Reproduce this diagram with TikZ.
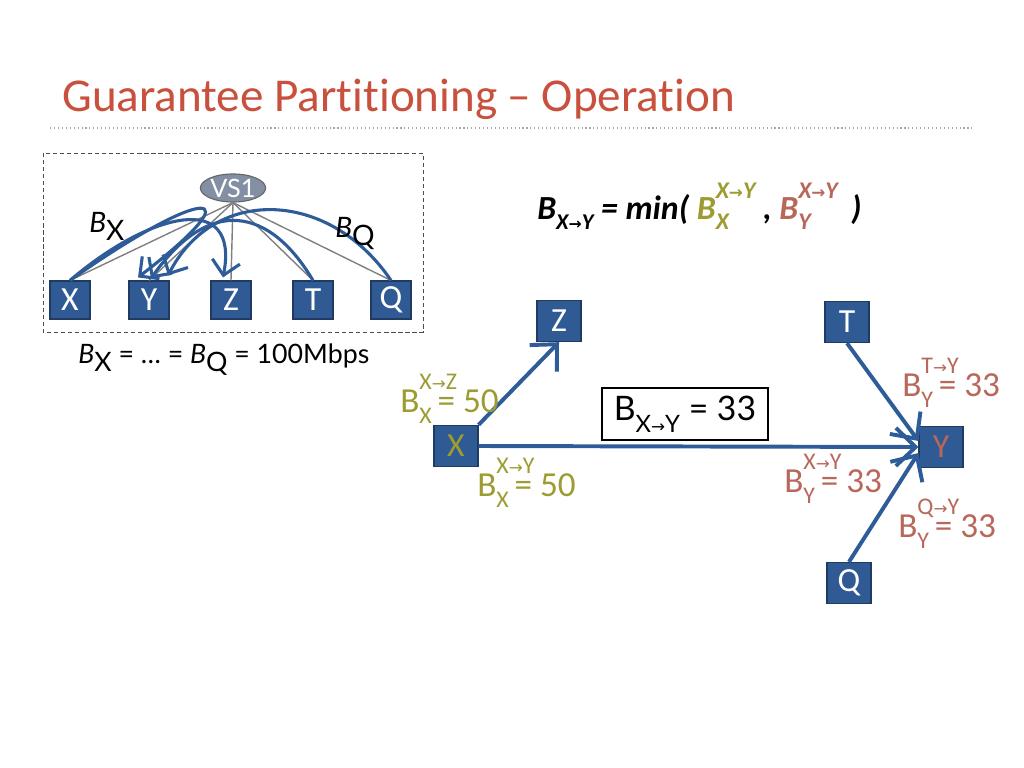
\documentclass[tikz,border=0pt]{standalone}
\usepackage{fontspec}
\setmainfont[Ligatures=NoCommon]{Carlito}
\newfontfamily\gill{Lato}
\newfontfamily\arrowfont{DejaVu Sans}
\usepackage{xcolor}
\usetikzlibrary{shapes.geometric, arrows.meta, positioning, calc}

\definecolor{titlered}{HTML}{C8503C}
\definecolor{linkblue}{HTML}{2E5C98}
\definecolor{boxblue}{HTML}{2F5A93}
\definecolor{boxedge}{HTML}{1F3B62}
\definecolor{olive}{HTML}{9C9C32}
\definecolor{rust}{HTML}{B8675B}
\definecolor{vsigray}{HTML}{8390A3}

\newcommand{\ra}{\scalebox{0.7}{\arrowfont →}}
\newcommand{\subsz}{\fontsize{17}{17}\selectfont}
% label: B with sub and sup, sup overlapping the equals sign
\newcommand{\share}[3]{B\rlap{\raisebox{.64em}{\subsz #2}}\raisebox{-.32em}{\subsz #1}\,= #3}
% sup over sub, box as wide as the sup
\newcommand{\supsub}[2]{\raisebox{-.3em}{\rlap{#2}}\raisebox{.6em}{#1}}

\begin{document}
\begin{tikzpicture}[x=0.025cm, y=-0.025cm,
    smallbox/.style={rectangle, draw=boxedge, line width=0.8pt, fill=boxblue, text=white, minimum width=1.0cm, minimum height=0.95cm, inner sep=0pt, font=\fontsize{24}{24}\selectfont},
    bigbox/.style={smallbox, minimum width=1.1cm, minimum height=1.03cm},
    vsi/.style={ellipse, draw=black!60, line width=0.8pt, fill=vsigray, text=white, minimum width=1.63cm, minimum height=0.7cm, inner sep=0pt, font=\gill\fontsize{18}{18}\selectfont},
    spoke/.style={draw=gray, line width=1pt},
    flow/.style={draw=linkblue, line width=2.2pt, -{Straight Barb[length=10pt,width=20pt]}},
    link/.style={draw=linkblue, line width=2.8pt, -{Straight Barb[length=14pt,width=27pt]}},
    share/.style={anchor=base west, inner sep=0pt, font=\fontsize{25}{25}\selectfont}
]
    \useasboundingbox (0,0) rectangle (1024,768);

    % Title
    \node[anchor=base west, inner sep=0pt, text=titlered, font=\fontsize{33.5}{33.5}\selectfont] (title) at (62,112) {Guarantee Partitioning -- Operation};
    \draw[gray!70, line width=0.8pt, dotted] (50,128) -- (972,128);

    % Hose model with VS1
    \draw[black!70, line width=0.6pt, densely dashed] (43,153) rectangle (423,332);
    \node[vsi] (vsi) at (233,188) {VS1};
    \node[smallbox] (x) at (70,300) {X};
    \node[smallbox] (y) at (149,300) {Y};
    \node[smallbox] (z) at (231,300) {Z};
    \node[smallbox] (t) at (313,300) {T};
    \node[smallbox] (q) at (391,300) {Q};
    \foreach \n in {x,y,z,t,q}
        \draw[spoke] (vsi.south) -- (\n.north);

    % Flows through the switch
    \draw[flow] (x.north) .. controls (205,185) and (258,185) .. ($(y.north)+(-11,-3)$);
    \draw[flow] (x.north) .. controls (150,212) and (240,190) .. ($(z.north)+(-8,-3)$);
    \draw[flow] (t.north) .. controls (270,208) and (210,195) .. ($(y.north)+(2,-2)$);
    \draw[flow] (q.north) .. controls (330,190) and (215,185) .. ($(y.north)+(19,-5)$);

    \node[anchor=base west, inner sep=0pt, font=\gill\fontsize{20}{20}\selectfont] (bx) at (89,232) {\textit{B}\raisebox{-.3em}{X}};
    \node[anchor=base west, inner sep=0pt, font=\gill\fontsize{20}{20}\selectfont] (bq) at (335,237) {\textit{B}\raisebox{-.3em}{Q}};
    \node[anchor=base west, inner sep=0pt, font=\gill\fontsize{19}{19}\selectfont] (cap) at (78,363)
        {\textit{B}\raisebox{-.3em}{X} = \dots{} = \textit{B}\raisebox{-.3em}{Q} = 100Mbps};

    % Min rule
    \node[anchor=base west, inner sep=0pt, font=\bfseries\itshape\fontsize{24}{24}\selectfont] (rule) at (537,219)
        {B\raisebox{-.3em}{\fontsize{16}{16}\selectfont X\ra Y} = min( \textcolor{olive}{B\supsub{\fontsize{17}{17}\selectfont X\ra Y}{\fontsize{17}{17}\selectfont X}} , \textcolor{rust}{B\supsub{\fontsize{17}{17}\selectfont X\ra Y}{\fontsize{17}{17}\selectfont Y}}\ \,)};

    % Flow graph
    \node[bigbox, text=olive] (rx) at (456,446) {X};
    \node[bigbox] (rz) at (559,321) {Z};
    \node[bigbox] (rt) at (847,322) {T};
    \node[bigbox, text=rust] (ry) at (941,447) {Y};
    \node[bigbox] (rq) at (849,583) {Q};

    \draw[link] (rx.north east) -- (rz.south);
    \draw[link] (rx.east) -- (ry.west);
    \draw[link] (rt.south) -- (ry.165);
    \draw[link] (rq.north) -- (ry.195);

    \node[rectangle, draw=black, line width=1.2pt, fill=white, minimum width=4.15cm, minimum height=1.3cm, font=\gill\fontsize{24}{24}\selectfont] (rate) at (685,414)
        {B\raisebox{-.35em}{\subsz X\ra Y} = 33};

    % Shares
    \node[share, text=olive] (sxz) at (400,412) {\share{X}{X\ra Z}{50}};
    \node[share, text=olive] (sxy) at (477,496) {\share{X}{X\ra Y}{50}};
    \node[share, text=rust] (sty) at (902,396) {\share{Y}{T\ra Y}{33}};
    \node[share, text=rust] (syx) at (784,492) {\share{Y}{X\ra Y}{33}};
    \node[share, text=rust] (sqy) at (898,537) {\share{Y}{Q\ra Y}{33}};
\end{tikzpicture}
\end{document}
